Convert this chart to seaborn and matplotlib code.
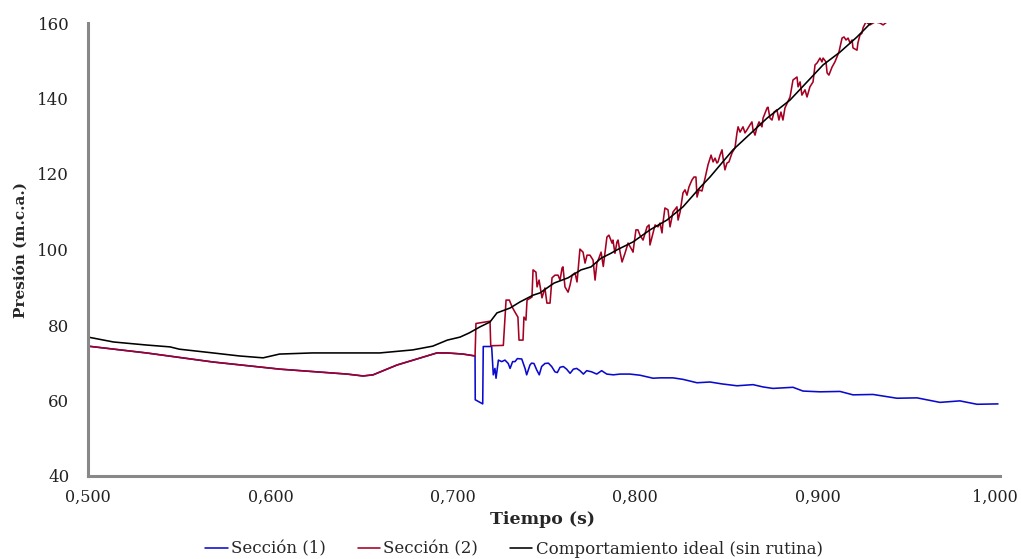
import matplotlib
matplotlib.use("Agg")
import matplotlib.pyplot as plt
import matplotlib.transforms as mtransforms
import seaborn as sns
import pandas as pd

# ---------------- data ----------------
# shared early part of Sección (1) and Sección (2)
base_t = [0.500, 0.532, 0.5685, 0.6053, 0.642, 0.6508, 0.6563, 0.6694, 0.6913,
          0.6968, 0.7056, 0.7122]
base_p = [74.4, 72.6, 70.2, 68.3, 67.0, 66.5, 66.8, 69.4, 72.6,
          72.6, 72.3, 71.8]

sec1_t = [0.7123, 0.7164, 0.7167, 0.7213, 0.7222, 0.7231, 0.7237, 0.7250, 0.7268,
          0.7286, 0.7304, 0.7314, 0.7328, 0.7341, 0.7354, 0.7378, 0.7396, 0.7405,
          0.7423, 0.7432, 0.7445, 0.7460, 0.7474, 0.7487, 0.7505, 0.7524, 0.7542,
          0.7560, 0.7573, 0.7588, 0.7606, 0.7624, 0.7643, 0.7661, 0.7679, 0.7697,
          0.7716, 0.7734, 0.7761, 0.7789, 0.7816, 0.7844, 0.7880, 0.7917, 0.7971,
          0.8026, 0.8098, 0.8136, 0.8207, 0.8262, 0.8339, 0.8410, 0.8475, 0.8558,
          0.8646, 0.8700, 0.8755, 0.8865, 0.8920, 0.9013, 0.9123, 0.9194, 0.9304,
          0.9435, 0.9545, 0.9671, 0.9780, 0.9874, 0.9989]
sec1_p = [60.2, 59.1, 74.3, 74.3, 66.8, 68.5, 65.9, 70.7, 70.3,
          70.7, 69.8, 68.5, 70.3, 70.3, 71.1, 71.0, 68.5, 66.8,
          69.4, 69.9, 69.8, 68.1, 66.8, 69.0, 69.8, 69.9, 69.0,
          67.6, 67.4, 68.8, 69.0, 68.3, 67.2, 68.3, 68.5, 67.9,
          67.0, 67.9, 67.6, 67.0, 67.9, 67.0, 66.8, 67.0, 67.0,
          66.7, 65.9, 66.0, 66.0, 65.6, 64.7, 64.9, 64.4, 63.9,
          64.2, 63.6, 63.2, 63.5, 62.5, 62.3, 62.4, 61.5, 61.6,
          60.6, 60.7, 59.5, 59.9, 59.0, 59.1]

sec2_t = [0.7127, 0.7204, 0.7208, 0.7277, 0.7292, 0.7310, 0.7325, 0.7341, 0.7357,
          0.7363, 0.7385, 0.7390, 0.7401, 0.7407, 0.7434, 0.7440, 0.7456, 0.7462,
          0.7473, 0.7489, 0.7505, 0.7516, 0.7533, 0.7544, 0.7560, 0.7577, 0.7588,
          0.7599, 0.7604, 0.7615, 0.7632, 0.7643, 0.7654, 0.7670, 0.7681, 0.7686,
          0.7697, 0.7714, 0.7725, 0.7736, 0.7752, 0.7769, 0.7780, 0.7790, 0.7801,
          0.7813, 0.7825, 0.7834, 0.7845, 0.7856, 0.7873, 0.7878, 0.7889, 0.7900,
          0.7906, 0.7917, 0.7928, 0.7944, 0.7961, 0.7982, 0.7988, 0.8004, 0.8015,
          0.8026, 0.8043, 0.8065, 0.8076, 0.8081, 0.8098, 0.8109, 0.8125, 0.8136,
          0.8147, 0.8152, 0.8163, 0.8180, 0.8191, 0.8202, 0.8207, 0.8229, 0.8235,
          0.8246, 0.8262, 0.8273, 0.8284, 0.8295, 0.8311, 0.8322, 0.8333, 0.8339,
          0.8350, 0.8366, 0.8383, 0.8399, 0.8416, 0.8427, 0.8438, 0.8448, 0.8454,
          0.8465, 0.8476, 0.8481, 0.8492, 0.8503, 0.8514, 0.8531, 0.8547, 0.8558,
          0.8564, 0.8575, 0.8591, 0.8602, 0.8613, 0.8629, 0.8640, 0.8646, 0.8657,
          0.8668, 0.8679, 0.8695, 0.8701, 0.8723, 0.8728, 0.8739, 0.8750, 0.8761,
          0.8777, 0.8788, 0.8799, 0.8810, 0.8821, 0.8849, 0.8865, 0.8887, 0.8893,
          0.8904, 0.8914, 0.8931, 0.8942, 0.8958, 0.8975, 0.8986, 0.8997, 0.9013,
          0.9024, 0.9030, 0.9046, 0.9052, 0.9062, 0.9079, 0.9095, 0.9106, 0.9117,
          0.9134, 0.9145, 0.9156, 0.9167, 0.9178, 0.9189, 0.9194, 0.9216, 0.9221,
          0.9232, 0.9243, 0.9249, 0.9265, 0.9287, 0.9315, 0.9342, 0.9359, 0.9381,
          0.9400]
sec2_p = [80.4, 81.0, 74.5, 74.6, 86.6, 86.6, 84.8, 83.4, 82.1,
          76.0, 76.0, 82.1, 81.3, 86.6, 87.4, 94.6, 94.0, 90.1,
          91.9, 87.2, 89.8, 85.8, 85.8, 92.5, 93.2, 93.2, 91.9,
          95.1, 95.4, 90.1, 88.7, 90.6, 93.2, 93.8, 91.4, 94.0,
          100.1, 99.3, 96.4, 98.5, 98.5, 97.2, 91.9, 96.4, 97.7,
          99.3, 95.5, 99.0, 103.3, 103.8, 101.7, 102.5, 99.0, 102.0,
          102.5, 99.3, 96.7, 99.0, 101.7, 99.9, 99.3, 105.2, 105.2,
          103.8, 102.5, 106.0, 106.5, 101.2, 104.4, 106.5, 106.0, 107.0,
          104.4, 107.0, 111.0, 110.5, 106.0, 108.6, 109.9, 111.3, 107.8,
          109.9, 115.0, 115.8, 114.4, 116.6, 118.4, 119.2, 119.2, 113.9,
          115.8, 115.5, 118.9, 122.4, 125.0, 123.2, 124.2, 122.9, 123.2,
          125.0, 126.4, 124.5, 121.1, 122.9, 123.2, 125.6, 126.9, 130.9,
          132.5, 131.1, 132.5, 130.9, 131.7, 133.0, 133.8, 131.7, 130.3,
          132.5, 133.8, 132.5, 134.8, 137.5, 137.7, 134.8, 134.3, 136.4,
          137.0, 134.3, 136.4, 134.3, 137.5, 140.4, 144.9, 145.7, 143.1,
          144.4, 140.9, 142.3, 140.4, 143.1, 144.4, 148.9, 149.4, 150.7,
          149.7, 150.7, 149.7, 146.8, 146.2, 148.3, 149.7, 151.0, 152.3,
          156.0, 156.3, 155.5, 156.0, 154.7, 155.5, 153.4, 152.8, 154.7,
          156.8, 157.3, 158.7, 160.3, 159.5, 160.3, 160.0, 159.5, 160.3,
          163.0]

ideal_t = [0.500, 0.514, 0.532, 0.545, 0.550, 0.5685, 0.583, 0.596, 0.605,
           0.623, 0.642, 0.660, 0.678, 0.689, 0.697, 0.704, 0.709, 0.7149,
           0.7204, 0.7242, 0.7314, 0.7368, 0.7440, 0.7478, 0.7555, 0.7632,
           0.7703, 0.7758, 0.7813, 0.7867, 0.7900, 0.7988, 0.8081, 0.8174,
           0.8262, 0.8355, 0.8410, 0.8536, 0.8723, 0.8849, 0.9030, 0.9123,
           0.9216, 0.9298, 0.9360]
ideal_p = [76.8, 75.5, 74.7, 74.2, 73.6, 72.6, 71.8, 71.3, 72.3,
           72.6, 72.6, 72.6, 73.4, 74.4, 76.0, 76.8, 77.9, 79.5,
           80.8, 83.2, 84.5, 86.1, 87.9, 88.5, 91.1, 92.5,
           94.6, 95.4, 97.7, 99.0, 99.9, 102.0, 105.2, 107.8,
           111.3, 116.4, 119.2, 126.4, 134.8, 139.6, 148.9, 152.3,
           156.3, 160.3, 162.5]

series_names = ["Sección (1)", "Sección (2)", "Comportamiento ideal (sin rutina)"]
series_colors = ["#0A0ACD", "#A50021", "#000000"]

x_ticks = [0.5, 0.6, 0.7, 0.8, 0.9, 1.0]
x_tick_labels = ["0,500", "0,600", "0,700", "0,800", "0,900", "1,000"]
y_ticks = [40, 60, 80, 100, 120, 140, 160]

# ---------------- build table ----------------
frames = []
for name, t, p in [
    (series_names[0], base_t + sec1_t, base_p + sec1_p),
    (series_names[1], base_t + sec2_t, base_p + sec2_p),
    (series_names[2], ideal_t, ideal_p),
]:
    frames.append(pd.DataFrame({"t": t, "p": p, "serie": name}))
df = pd.concat(frames, ignore_index=True)

# ---------------- plot ----------------
sns.set_theme(style="white")
plt.rcParams["font.family"] = ["DejaVu Serif"]

fig = plt.figure(figsize=(10.21, 5.59), dpi=100)
ax = fig.add_axes([88 / 1021, 83 / 559, 912 / 1021, 453 / 559])

sns.lineplot(data=df, x="t", y="p", hue="serie", hue_order=series_names,
             palette=series_colors, estimator=None, sort=False, units="serie",
             linewidth=1.15, ax=ax, legend=True)

ax.set_xlim(0.5, 1.0)
ax.set_ylim(40, 160)
ax.set_xticks(x_ticks)
ax.set_xticklabels(x_tick_labels)
ax.set_yticks(y_ticks)
ax.tick_params(axis="both", length=0, colors="#222222")
ax.tick_params(axis="x", pad=9, labelsize=11.5)
ax.tick_params(axis="y", pad=13.5, labelsize=12)

# keep the last x label inside the figure
last = ax.get_xticklabels()[-1]
last.set_transform(last.get_transform() +
                   mtransforms.ScaledTranslation(-5 / 100, 0, fig.dpi_scale_trans))

for s in ["top", "right"]:
    ax.spines[s].set_visible(False)
for s in ["left", "bottom"]:
    ax.spines[s].set_color("#888888")
    ax.spines[s].set_linewidth(2.2)

ax.set_xlabel("Tiempo (s)", fontsize=12.5, fontweight="bold")
ax.set_ylabel("Presión (m.c.a.)", fontsize=11, fontweight="bold")
ax.xaxis.set_label_coords(0.4989, -(511 - 476) / 453)
ax.yaxis.set_label_coords(-(88 - 28) / 912, 0.5)
ax.grid(False)

handles, labels = ax.get_legend_handles_labels()
ax.get_legend().remove()
fig.legend(handles, labels, loc="center", bbox_to_anchor=(514 / 1021, 1 - 549 / 559),
           ncol=3, frameon=False, fontsize=12, handlelength=1.35, handletextpad=0.2,
           columnspacing=1.9, borderaxespad=0)

fig.savefig("out.png", dpi=100)
